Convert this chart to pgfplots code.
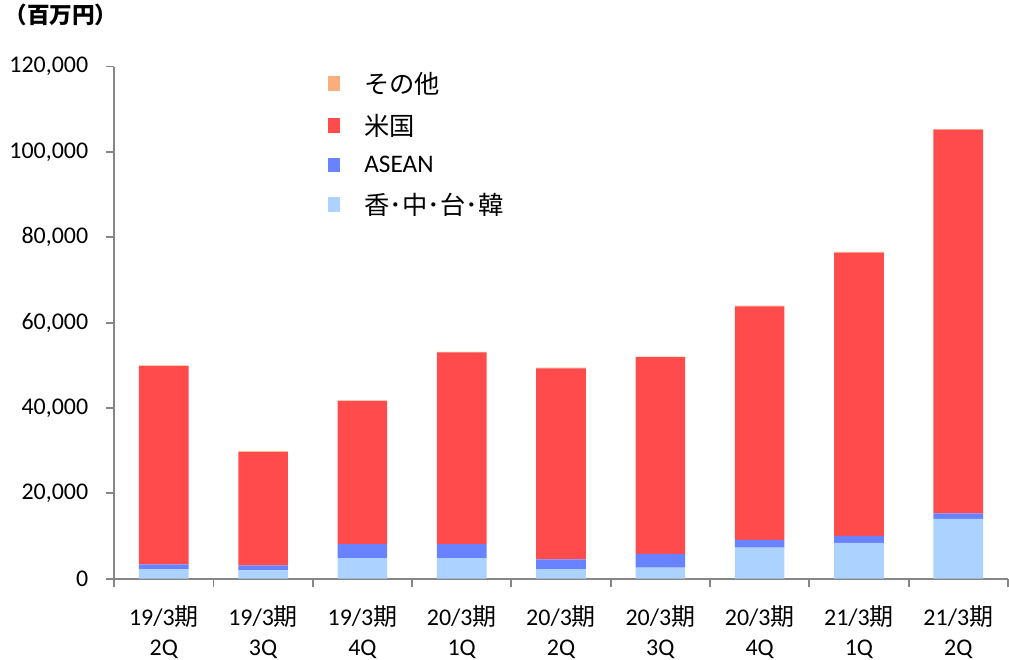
\documentclass[border=0pt]{standalone}
\usepackage{pgfplots}
\pgfplotsset{compat=1.18}
\usepackage{fontspec}
\setmainfont{Carlito}
\newfontfamily\jp{Noto Sans CJK JP}

\definecolor{axgray}{RGB}{134,134,134}
\definecolor{hkfill}{RGB}{172,210,255}
\definecolor{asfill}{RGB}{105,130,255}
\definecolor{usfill}{RGB}{255,75,75}
\definecolor{otfill}{RGB}{248,175,125}

\pgfplotstableread{
x hk asean us other
0 2200 1150 46450 150
1 1950 1150 26600 150
2 4800 3300 33500 150
3 4800 3300 44900 150
4 2200 2300 44800 150
5 2600 3200 46100 150
6 7250 1850 54700 150
7 8400 1600 66400 150
8 14000 1300 89900 150
}\sales

\begin{document}
\begin{tikzpicture}
\begin{axis}[
  scale only axis,
  width=672pt, height=385pt,
  ybar stacked, bar width=0.5,
  xmin=-0.5, xmax=8.5,
  ymin=0, ymax=120000,
  ytick={0,20000,...,120000},
  scaled y ticks=false,
  yticklabel style={font=\fontsize{18}{22}\selectfont, xshift=-10pt,
    /pgf/number format/fixed,
    /pgf/number format/precision=0,
    /pgf/number format/1000 sep={,},
    /pgf/number format/assume math mode=true},
  xtick={-0.5,0.5,...,8.5},
  x tick label as interval,
  xticklabels={{19/3{\jp 期}\\2Q},{19/3{\jp 期}\\3Q},{19/3{\jp 期}\\4Q},{20/3{\jp 期}\\1Q},{20/3{\jp 期}\\2Q},{20/3{\jp 期}\\3Q},{20/3{\jp 期}\\4Q},{21/3{\jp 期}\\1Q},{21/3{\jp 期}\\2Q}},
  xticklabel style={align=center, font=\fontsize{18}{23}\selectfont, inner sep=0pt, yshift=-14pt},
  axis lines=left,
  axis line style={-, axgray, line width=1.6pt},
  tick style={axgray, line width=1.4pt},
  tick align=outside,
  major tick length=6pt,
  clip=false,
  reverse legend,
  legend cell align=left,
  legend style={at={(0.235,1.0)}, anchor=north west, draw=none, fill=none,
    font=\fontsize{19}{22}\selectfont, row sep=10pt,
    /tikz/every odd column/.append style={column sep=16pt}},
  legend image code/.code={\path[#1, draw=none] (0pt,-5.5pt) rectangle (9pt,5.5pt);},
]
\addplot[draw=none, fill=hkfill] table[x=x,y=hk]{\sales};
\addlegendentry{\jp 香･中･台･韓}
\addplot[draw=none, fill=asfill] table[x=x,y=asean]{\sales};
\addlegendentry{ASEAN}
\addplot[draw=none, fill=usfill] table[x=x,y=us]{\sales};
\addlegendentry{\jp 米国}
\addplot[draw=none, fill=otfill] table[x=x,y=other]{\sales};
\addlegendentry{\jp その他}
\node[anchor=west, font=\jp\bfseries\fontsize{17}{20}\selectfont] at (axis description cs:-0.128,1.1) {（百万円）};
\end{axis}
\end{tikzpicture}
\end{document}
